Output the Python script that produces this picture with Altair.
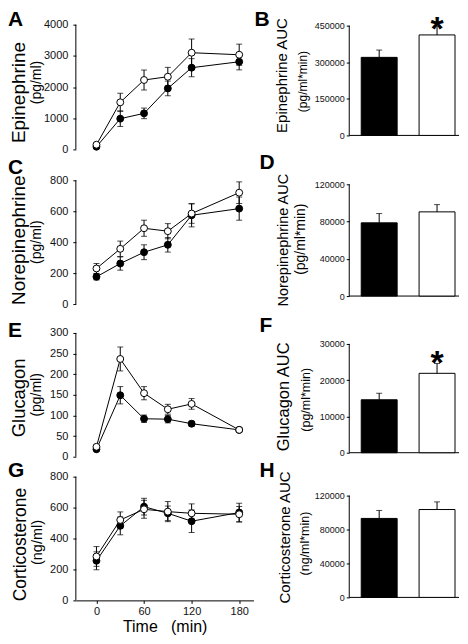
import altair as alt
import pandas as pd

FONT = "Liberation Sans"

# ---------------- data ----------------
times = [0, 30, 60, 90, 120, 180]
groups = ["Control", "Treated"]          # black, white

epi_black = [85, 985, 1155, 1955, 2620, 2810]
epi_black_err = [40, 250, 170, 235, 290, 260]
epi_white = [150, 1510, 2225, 2330, 3100, 3035]
epi_white_err = [40, 290, 320, 300, 440, 340]

ne_black = [176, 262, 335, 383, 574, 617]
ne_black_err = [20, 43, 48, 47, 75, 75]
ne_white = [230, 357, 490, 471, 585, 720]
ne_white_err = [32, 50, 52, 49, 63, 70]

glu_black = [18, 149, 92, 91, 80, 65]
glu_black_err = [3, 21, 9, 9, 6, 4]
glu_white = [24, 237, 154, 115, 128, 65]
glu_white_err = [4, 29, 16, 12, 13, 4]

cort_black = [256, 482, 606, 563, 512, 568]
cort_black_err = [58, 58, 54, 47, 73, 60]
cort_white = [284, 520, 589, 574, 563, 557]
cort_white_err = [64, 52, 58, 65, 61, 50]

epi_auc = [320000, 412000]
epi_auc_err = [30000, 37000]
ne_auc = [78600, 90400]
ne_auc_err = [10000, 7800]
glu_auc = [14600, 21900]
glu_auc_err = [1800, 2700]
cort_auc = [93100, 103600]
cort_auc_err = [9400, 9000]

epi_sig = ["", "*"]
ne_sig = ["", ""]
glu_sig = ["", "*"]
cort_sig = ["", ""]

x_ticks = [0, 60, 120, 180]
x_title = "Time\u00a0\u00a0\u00a0(min)"

# ---------------- layout ----------------
LEFT_W = 178
RIGHT_W = 110
ROW_H = [156, 153, 144, 124]


def padded_domain(ymax, row_h, px_bottom, px_top):
    """Scale domain so that 0 sits at px_bottom and ymax at px_top of a row_h tall view."""
    k = ymax / (px_bottom - px_top)
    return [-(row_h - px_bottom) * k, ymax + px_top * k]


def text_layer(text, x, y, size, weight="normal", angle=0, align="center", baseline="middle"):
    return alt.Chart(pd.DataFrame({"t": [text]})).mark_text(
        font=FONT, fontSize=size, fontWeight=weight, angle=angle,
        align=align, baseline=baseline, color="black"
    ).encode(x=alt.value(x), y=alt.value(y), text="t:N")


def y_axis(ymax, step, size, pad):
    return alt.Axis(values=list(range(0, ymax + 1, step)), title=None, format="d",
                    labelFontSize=size, tickSize=3, labelPadding=pad, grid=False,
                    domain=False)


def line_panel(letter, title, unit, black, black_err, white, white_err,
               ymax, step, row_h, rng, letter_y, title_pos, unit_pos,
               title_size, unit_size, show_x):
    recs = []
    for g, vals, errs in ((groups[0], black, black_err), (groups[1], white, white_err)):
        for t, v, e in zip(times, vals, errs):
            recs.append({"time": t, "value": v, "lo": v - e, "hi": v + e, "group": g})
    df = pd.DataFrame(recs)

    if show_x:
        xaxis = alt.Axis(values=x_ticks, title=x_title, titleFontSize=16,
                         titleFontWeight="normal", titleFont=FONT, titlePadding=2.5,
                         titleColor="black", labelFontSize=11, tickSize=3,
                         labelPadding=2, grid=False, labelFlush=False)
    else:
        xaxis = None
    xs = alt.Scale(domain=[-26, 198], nice=False, zero=False)
    ys = alt.Scale(domain=padded_domain(ymax, row_h, rng[0], rng[1]), nice=False, zero=False)
    yaxis = y_axis(ymax, step, 11, 5)

    def X():
        return alt.X("time:Q", scale=xs, axis=xaxis)

    def Y(f):
        return alt.Y(f + ":Q", scale=ys, axis=yaxis)

    base = alt.Chart(df)
    spine = alt.Chart(pd.DataFrame({"a": [0], "b": [ymax]})).mark_rule(
        color="black", strokeWidth=1).encode(x=alt.value(0), y=Y("a"), y2="b:Q")
    line = base.mark_line(color="black", strokeWidth=1).encode(x=X(), y=Y("value"), detail="group:N")
    err = base.mark_rule(color="black", strokeWidth=1).encode(x=X(), y=Y("lo"), y2="hi:Q")
    cap_hi = base.mark_tick(orient="horizontal", size=6, thickness=1, color="black").encode(x=X(), y=Y("hi"))
    cap_lo = base.mark_tick(orient="horizontal", size=6, thickness=1, color="black").encode(x=X(), y=Y("lo"))
    pts = base.mark_circle(size=48, stroke="black", strokeWidth=1, opacity=1).encode(
        x=X(), y=Y("value"),
        fill=alt.Fill("group:N", scale=alt.Scale(domain=groups, range=["black", "white"]), legend=None),
        order=alt.Order("group:N"),
    )
    layers = [spine, line, err, cap_hi, cap_lo, pts,
              text_layer(letter, -68, letter_y, 21, weight="bold", align="left", baseline="top"),
              text_layer(title, title_pos[0], title_pos[1], title_size, angle=270),
              text_layer(unit, unit_pos[0], unit_pos[1], unit_size, angle=270)]
    return alt.layer(*layers).properties(width=LEFT_W, height=row_h)


def bar_panel(letter, title, unit, vals, errs, sig, ymax, step, row_h, rng,
              letter_x, letter_y, title_pos, unit_pos, title_size, unit_size, star_dy=-17):
    df = pd.DataFrame({"group": groups, "value": vals, "err": errs,
                       "top": [v + e for v, e in zip(vals, errs)], "sig": sig})
    xs = alt.Scale(domain=groups, paddingInner=0.379, paddingOuter=0.138, align=0.75)
    ys = alt.Scale(domain=padded_domain(ymax, row_h, rng[0], rng[1]), nice=False, zero=False)
    yaxis = y_axis(ymax, step, 9, 2)

    def X():
        return alt.X("group:N", scale=xs, axis=None)

    def Y(f):
        return alt.Y(f + ":Q", scale=ys, axis=yaxis)

    base = alt.Chart(df)
    spine = alt.Chart(pd.DataFrame({"a": [0], "b": [ymax]})).mark_rule(
        color="black", strokeWidth=1).encode(x=alt.value(0), y=Y("a"), y2="b:Q")
    baseline_rule = alt.Chart(pd.DataFrame({"z": [0]})).mark_rule(color="black", strokeWidth=1).encode(
        y=Y("z"), x=alt.value(0), x2=alt.value(RIGHT_W))
    bars = base.mark_bar(stroke="black", strokeWidth=1).encode(
        x=X(), y=Y("value"), y2=alt.datum(0),
        fill=alt.Fill("group:N", scale=alt.Scale(domain=groups, range=["black", "white"]), legend=None))
    err = base.mark_rule(color="black", strokeWidth=1).encode(x=X(), y=Y("value"), y2="top:Q")
    cap = base.mark_tick(orient="horizontal", size=6, thickness=1, color="black").encode(x=X(), y=Y("top"))
    star = base.mark_text(font=FONT, fontSize=34, fontWeight="bold", baseline="top",
                          dy=star_dy, color="black").encode(x=X(), y=Y("top"), text="sig:N")
    layers = [spine, baseline_rule, bars, err, cap, star,
              text_layer(letter, letter_x, letter_y, 21, weight="bold", align="left", baseline="top"),
              text_layer(title, title_pos[0], title_pos[1], title_size, angle=270),
              text_layer(unit, unit_pos[0], unit_pos[1], unit_size, angle=270)]
    return alt.layer(*layers).properties(width=RIGHT_W, height=row_h)


A = line_panel("A", "Epinephrine", "(pg/ml)", epi_black, epi_black_err, epi_white, epi_white_err,
               4000, 1000, ROW_H[0], [125, 0], -16, (-57, 68), (-38.5, 58), 19, 14, False)
B = bar_panel("B", "Epinephrine AUC", "(pg/ml*min)", epi_auc, epi_auc_err, epi_sig,
              450000, 150000, ROW_H[0], [111, 1], -95, -16, (-67, 51), (-46, 57), 15, 12, star_dy=-13)
C = line_panel("C", "Norepinephrine", "(pg/ml)", ne_black, ne_black_err, ne_white, ne_white_err,
               800, 200, ROW_H[1], [124, 0], -23.6, (-57, 60), (-38.5, 62), 19, 14, False)
D = bar_panel("D", "Norepinephrine AUC", "(pg/ml*min)", ne_auc, ne_auc_err, ne_sig,
              120000, 40000, ROW_H[1], [116, 4], -90, -28.6, (-65, 60), (-48.5, 59), 14.5, 14)
E = line_panel("E", "Glucagon", "(pg/ml)", glu_black, glu_black_err, glu_white, glu_white_err,
               300, 50, ROW_H[2], [124, 0], -12.6, (-57, 65), (-38.5, 62), 18.5, 14, False)
F = bar_panel("F", "Glucagon AUC", "(pg/ml*min)", glu_auc, glu_auc_err, glu_sig,
              30000, 10000, ROW_H[2], [120, 11], -90, -17.6, (-65, 64), (-43, 67), 16.5, 12.5)
G = line_panel("G", "Corticosterone", "(ng/ml)", cort_black, cort_black_err, cort_white, cort_white_err,
               800, 200, ROW_H[3], [124, 0], -16.6, (-55, 68), (-37.5, 66), 17.5, 14.5, True)
H = bar_panel("H", "Corticosterone AUC", "(ng/ml*min)", cort_auc, cort_auc_err, cort_sig,
              120000, 40000, ROW_H[3], [121, 19], -90, -16.6, (-64, 61), (-44, 67), 15, 12.5)

chart = alt.concat(
    A, B, C, D, E, F, G, H,
    columns=2, spacing={"row": 0, "column": 96}, bounds="flush", align="each",
).properties(
    padding=0
).configure_view(
    stroke=None
).configure_axis(
    domainColor="black", tickColor="black", labelColor="#111", labelFont=FONT,
    domainWidth=1, tickWidth=1
)

chart.save("out.html", embed_options={"renderer": "svg", "actions": False})
